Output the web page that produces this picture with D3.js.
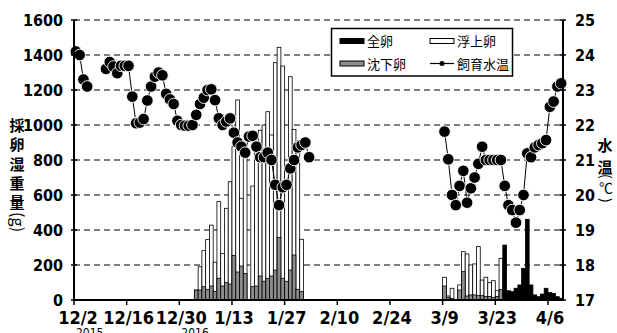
<!DOCTYPE html>
<html>
<head>
<meta charset="utf-8">
<script src="https://cdn.jsdelivr.net/npm/d3@7"></script>
<style>
  html, body { margin: 0; padding: 0; background: #fff; }
  svg { display: block; }
</style>
</head>
<body>
<div id="chart"></div>
<script>
// daily egg weight (g), series start dates
const janStart = '2016-01-03';
const sinkJan  = [57, 57, 76, 61, 80, 48, 124, 80, 99, 91, 255, 160, 194, 152, null, 76, 80, 137, 107, 124, 137, 171, 358, 124, 107, 171, 257, 61, 48];
const floatJan = [0, 133, 206, 284, 348, 168, 438, 185, 425, 585, 621, 983, 387, 698, null, 575, 800, 833, 893, 952, 806, 1185, 1086, 1213, 653, 1105, 718, 819, 299];

const marStart = '2016-03-09';
const sinkMar  = [80, 15, 8, null, 57, 162, 23, 29, 29, 25, 25, 20, 20, 15, 20, 60];
const floatMar = [50, 8, 59, null, 29, 114, 240, 171, 177, 280, 89, 110, 79, 95, 33, 178];

const allStart = '2016-03-25';
const allEggs  = [314, 53, 48, 67, 86, 181, 461, 86, 29, 19, 34, 67, 42, 38, 19, 10];

// water temperature (°C), runs of consecutive days
const tempRuns = [
  { start: '2015-12-02', values: [24.1, 24.0, 23.3, 23.1] },
  { start: '2015-12-10', values: [23.6, 23.8, 23.67, 23.48, 23.69, 23.69, 23.69, 22.81, 22.05, 22.07,
      22.17, 22.7, 23.1, 23.38, 23.5, 23.42, 22.89, 22.73, 22.6, 22.12,
      22.0, 21.98, 21.98, 22.0, 22.29, 22.6, 22.78, 23.0, 23.02, 22.71,
      22.19, 22.0, 22.1, 22.19, 21.78, 21.5, 21.38, 21.21, 21.67, 21.69,
      21.38, 21.08, 21.08, 21.21, 21.0, 20.29, 19.71, 20.22, 20.29, 20.76,
      21.0, 21.36, 21.43, 21.5, 21.08] },
  { start: '2016-03-09', values: [21.81, 21.02, 20.0, 19.71, 20.26, 20.69, 19.78, 20.19, 20.5, 20.89,
      21.38, 21.0, 21.0, 21.0, 21.0, 21.0, 20.26, 19.71, 19.57, 19.21,
      19.57, 20.0, 21.19, 21.08, 21.36, 21.43, 21.48, 21.57, 22.52, 22.67,
      23.1, 23.19] }
];

const tickDates = ['2015-12-02', '2015-12-16', '2015-12-30', '2016-01-13', '2016-01-27', '2016-02-10', '2016-02-24', '2016-03-09', '2016-03-23', '2016-04-06'];
const yearLabels = [['2015-12-02', '2015'], ['2015-12-30', '2016']];
const leftTicks = [0, 200, 400, 600, 800, 1000, 1200, 1400, 1600];
const rightTicks = [17, 18, 19, 20, 21, 22, 23, 24, 25];

const W = 617, H = 333;
const margin = { top: 20, right: 54, bottom: 33, left: 74 };
const numFont = '"Liberation Sans Narrow", "DejaVu Sans Condensed", "Arial Narrow", sans-serif';
const jpFont = '"Noto Sans CJK JP", "Noto Sans", sans-serif';
const grey = '#8c8c8c';
const parse = d3.utcParse('%Y-%m-%d');

const svg = d3.select('#chart').append('svg')
  .attr('width', W).attr('height', H);

const x = d3.scaleUtc()
  .domain([parse('2015-12-02'), parse('2016-04-10')])
  .range([margin.left, W - margin.right]);
const y = d3.scaleLinear().domain([0, 1600]).range([H - margin.bottom, margin.top]);
const yT = d3.scaleLinear().domain([17, 25]).range([H - margin.bottom, margin.top]);

// grid
svg.append('g')
  .selectAll('line')
  .data(leftTicks.filter(d => d > 0))
  .join('line')
  .attr('x1', margin.left).attr('x2', W - margin.right)
  .attr('y1', d => y(d)).attr('y2', d => y(d))
  .attr('stroke', '#000').attr('stroke-width', 1.2)
  .attr('stroke-dasharray', '6,4');

// bars
function dayBars(start, lower, upper) {
  const s = parse(start);
  return lower.map((v, i) => v == null ? null : ({
    d0: d3.utcDay.offset(s, i), d1: d3.utcDay.offset(s, i + 1), lo: v, hi: upper ? upper[i] : 0
  })).filter(d => d);
}
const bars = svg.append('g').attr('stroke', '#000').attr('stroke-width', 0.8);
const stacked = dayBars(janStart, sinkJan, floatJan).concat(dayBars(marStart, sinkMar, floatMar));
bars.selectAll('rect.float').data(stacked).join('rect')
  .attr('class', 'float')
  .attr('x', d => x(d.d0)).attr('width', d => x(d.d1) - x(d.d0))
  .attr('y', d => y(d.lo + d.hi)).attr('height', d => y(0) - y(d.lo + d.hi))
  .attr('fill', '#fff');
bars.selectAll('rect.sink').data(stacked).join('rect')
  .attr('class', 'sink')
  .attr('x', d => x(d.d0)).attr('width', d => x(d.d1) - x(d.d0))
  .attr('y', d => y(d.lo)).attr('height', d => y(0) - y(d.lo))
  .attr('fill', grey);
bars.selectAll('rect.all').data(dayBars(allStart, allEggs)).join('rect')
  .attr('class', 'all')
  .attr('x', d => x(d.d0)).attr('width', d => x(d.d1) - x(d.d0))
  .attr('y', d => y(d.lo)).attr('height', d => y(0) - y(d.lo))
  .attr('fill', '#000');

// temperature
const half = (x(parse('2015-12-03')) - x(parse('2015-12-02'))) / 2;
const line = d3.line().x(d => x(d.date) + half).y(d => yT(d.v));
const tempPts = [];
tempRuns.forEach(run => {
  const s = parse(run.start);
  const pts = run.values.map((v, i) => ({ date: d3.utcDay.offset(s, i), v }));
  tempPts.push(...pts);
  svg.append('path').datum(pts)
    .attr('fill', 'none').attr('stroke', '#000').attr('stroke-width', 1)
    .attr('d', line);
});
svg.append('g').selectAll('circle').data(tempPts).join('circle')
  .attr('cx', d => x(d.date) + half).attr('cy', d => yT(d.v))
  .attr('r', 5.8).attr('fill', '#000').attr('stroke', '#fff').attr('stroke-width', 0.9);

// axes
const axisG = svg.append('g').attr('stroke', '#000');
axisG.append('line')
  .attr('x1', margin.left).attr('x2', margin.left)
  .attr('y1', margin.top).attr('y2', y(0)).attr('stroke-width', 2);
axisG.append('line')
  .attr('x1', W - margin.right).attr('x2', W - margin.right)
  .attr('y1', margin.top).attr('y2', y(0)).attr('stroke-width', 2);
axisG.append('line')
  .attr('x1', margin.left - 1).attr('x2', W - margin.right + 1)
  .attr('y1', y(0)).attr('y2', y(0)).attr('stroke-width', 2);

axisG.selectAll('line.lt').data(leftTicks).join('line')
  .attr('class', 'lt')
  .attr('x1', margin.left - 3).attr('x2', margin.left + 3)
  .attr('y1', d => y(d)).attr('y2', d => y(d)).attr('stroke-width', 1.5);
axisG.selectAll('line.rt').data(rightTicks).join('line')
  .attr('class', 'rt')
  .attr('x1', W - margin.right - 3).attr('x2', W - margin.right + 3)
  .attr('y1', d => yT(d)).attr('y2', d => yT(d)).attr('stroke-width', 1.5);
axisG.selectAll('line.bt').data(tickDates).join('line')
  .attr('class', 'bt')
  .attr('x1', d => x(parse(d))).attr('x2', d => x(parse(d)))
  .attr('y1', y(0)).attr('y2', y(0) + 5).attr('stroke-width', 1.5);

svg.append('g').selectAll('text').data(leftTicks).join('text')
  .attr('x', margin.left - 11).attr('y', d => y(d) + 6)
  .attr('text-anchor', 'end')
  .attr('font-family', numFont).attr('font-size', 16).attr('font-weight', 'bold')
  .text(d => d);
svg.append('g').selectAll('text').data(rightTicks).join('text')
  .attr('x', W - margin.right + 12).attr('y', d => yT(d) + 6)
  .attr('font-family', numFont).attr('font-size', 16).attr('font-weight', 'bold')
  .text(d => d);

const fmt = d3.utcFormat('%-m/%-d');
svg.append('g').selectAll('text').data(tickDates).join('text')
  .attr('x', (d, i) => x(parse(d)) + (i === 0 ? 4 : 2)).attr('y', 324)
  .attr('text-anchor', 'middle')
  .attr('font-family', numFont).attr('font-size', 18).attr('font-weight', 'bold')
  .text(d => fmt(parse(d)));
svg.append('g').selectAll('text').data(yearLabels).join('text')
  .attr('x', d => x(parse(d[0])) + 2).attr('y', 337)
  .attr('font-family', numFont).attr('font-size', 12)
  .text(d => d[1]);

// axis titles, stacked characters with sideways brackets
function stackTitle(cx, y0, step, chars) {
  const g = svg.append('g').attr('font-family', jpFont).attr('font-size', 15).attr('font-weight', 'bold');
  chars.forEach((c, i) => {
    g.append('text').attr('x', cx).attr('y', y0 + i * step).attr('text-anchor', 'middle').text(c);
  });
  return g;
}
const leftTitle = stackTitle(17, 131, 19.3, ['採', '卵', '湿', '重', '量']);
leftTitle.append('text')
  .attr('transform', 'translate(12,212) rotate(90)')
  .attr('font-weight', 'normal').attr('font-size', 16)
  .text('(g)');

const rightTitle = stackTitle(605, 151, 22, ['水', '温']);
rightTitle.append('text')
  .attr('transform', 'translate(601,174) rotate(90)')
  .attr('font-weight', 'normal').attr('font-size', 14).text('(');
rightTitle.append('text')
  .attr('x', 606).attr('y', 193).attr('text-anchor', 'middle')
  .attr('font-weight', 'normal').attr('font-size', 14).text('℃');
rightTitle.append('text')
  .attr('transform', 'translate(601,198) rotate(90)')
  .attr('font-weight', 'normal').attr('font-size', 14).text(')');

// legend
const lg = svg.append('g').attr('font-family', jpFont).attr('font-size', 13);
lg.append('rect').attr('x', 331.5).attr('y', 28.5).attr('width', 181).attr('height', 47.5)
  .attr('fill', '#fff').attr('stroke', '#000').attr('stroke-width', 1.5);
const legendItems = [
  { label: '全卵', fill: '#000', col: 0, row: 0 },
  { label: '浮上卵', fill: '#fff', col: 1, row: 0 },
  { label: '沈下卵', fill: grey, col: 0, row: 1 },
  { label: '飼育水温', fill: null, col: 1, row: 1 }
];
legendItems.forEach(it => {
  const lx = 340 + it.col * 90, ly = 41 + it.row * 22.5;
  if (it.fill) {
    lg.append('rect').attr('x', lx).attr('y', ly - 2.5).attr('width', 24).attr('height', 5)
      .attr('fill', it.fill).attr('stroke', '#000').attr('stroke-width', 1);
  } else {
    lg.append('line').attr('x1', lx).attr('x2', lx + 24).attr('y1', ly).attr('y2', ly)
      .attr('stroke', '#000').attr('stroke-width', 1.2);
    lg.append('circle').attr('cx', lx + 12).attr('cy', ly).attr('r', 2.5).attr('fill', '#000');
  }
  lg.append('text').attr('x', lx + 27).attr('y', ly + 5).text(it.label);
});
</script>
</body>
</html>
